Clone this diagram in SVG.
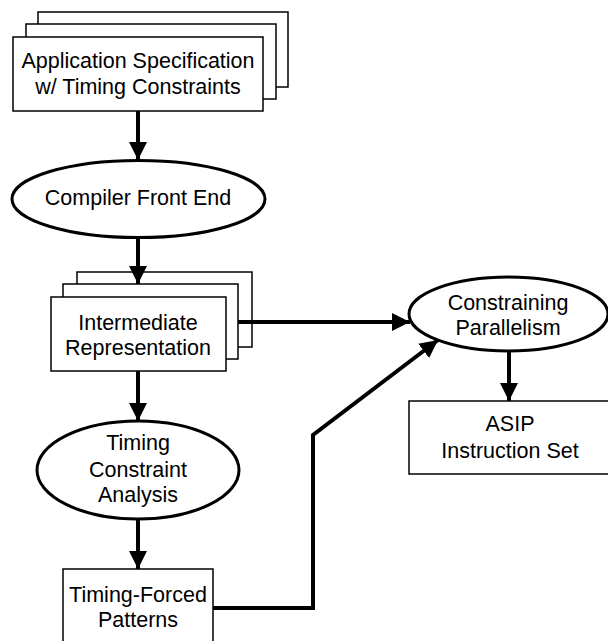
<svg xmlns="http://www.w3.org/2000/svg" width="608" height="641" viewBox="0 0 608 641">
<style>
.box{fill:#fff;stroke:#000;stroke-width:1.5}
.ell{fill:#fff;stroke:#000;stroke-width:3}
.lbl{font-family:"Liberation Sans",Arial,sans-serif;font-size:21.5px;fill:#000;text-anchor:middle}
.conn{fill:none;stroke:#000;stroke-width:4;marker-end:url(#ah)}
</style>
<defs>
<marker id="ah" markerUnits="userSpaceOnUse" markerWidth="18" markerHeight="18" refX="18" refY="9" orient="auto">
<path d="M0,0 L18,9 L0,18 z" fill="#000"/>
</marker>
</defs>
<rect width="608" height="641" fill="#fff"/>
<g id="app-spec">
<rect class="box" x="38" y="12" width="250" height="75"/>
<rect class="box" x="26" y="24" width="250" height="75"/>
<rect class="box" x="13" y="37" width="250" height="74"/>
<text class="lbl" x="138" y="68">Application Specification</text>
<text class="lbl" x="138" y="94">w/ Timing Constraints</text>
</g>
<g id="compiler-front-end">
<ellipse class="ell" cx="138.5" cy="199" rx="126.5" ry="38.5"/>
<text class="lbl" x="138" y="205">Compiler Front End</text>
</g>
<g id="intermediate-representation">
<rect class="box" x="77" y="272" width="175" height="75"/>
<rect class="box" x="63" y="284" width="175" height="75"/>
<rect class="box" x="51" y="297" width="175" height="74"/>
<text class="lbl" x="138" y="330">Intermediate</text>
<text class="lbl" x="138" y="355">Representation</text>
</g>
<g id="timing-constraint-analysis">
<ellipse class="ell" cx="138" cy="470" rx="101" ry="49"/>
<text class="lbl" x="138" y="450">Timing</text>
<text class="lbl" x="138" y="477">Constraint</text>
<text class="lbl" x="138" y="502">Analysis</text>
</g>
<g id="timing-forced-patterns">
<rect class="box" x="63" y="569" width="150" height="80"/>
<text class="lbl" x="138" y="602">Timing-Forced</text>
<text class="lbl" x="138" y="627">Patterns</text>
</g>
<g id="constraining-parallelism">
<ellipse class="ell" cx="508.5" cy="314" rx="99.5" ry="37"/>
<text class="lbl" x="508" y="310">Constraining</text>
<text class="lbl" x="508" y="335">Parallelism</text>
</g>
<g id="asip-instruction-set">
<rect class="box" x="409" y="401" width="202" height="73"/>
<text class="lbl" x="510" y="431">ASIP</text>
<text class="lbl" x="510" y="458">Instruction Set</text>
</g>
<g id="connectors">
<line class="conn" x1="138" y1="111" x2="138" y2="160"/>
<line class="conn" x1="138" y1="237" x2="138" y2="284"/>
<line class="conn" x1="138" y1="371" x2="138" y2="421"/>
<line class="conn" x1="138" y1="519" x2="138" y2="569"/>
<line class="conn" x1="238" y1="322" x2="410" y2="322"/>
<line class="conn" x1="509" y1="351" x2="509" y2="401"/>
<polyline class="conn" points="213,608 313,608 313,435 438,340"/>
</g>
</svg>
